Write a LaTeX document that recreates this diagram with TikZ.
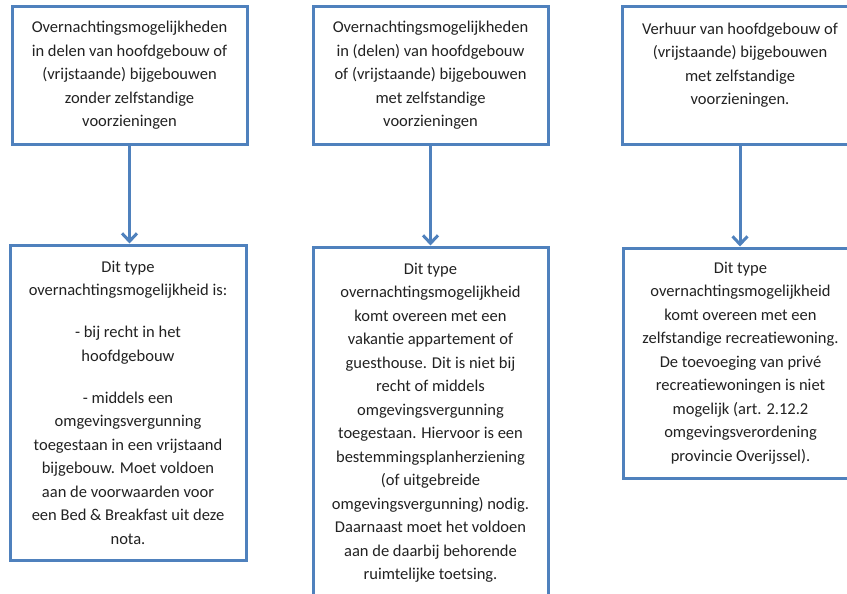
\documentclass[tikz,border=0pt]{standalone}
\usepackage{fontspec}
\setmainfont{Carlito}
\usetikzlibrary{arrows.meta}
\definecolor{boxblue}{HTML}{4F81BD}
\definecolor{txt}{HTML}{222222}
\tikzset{
  box/.style={draw=boxblue, line width=3pt, fill=white, rectangle, inner sep=0pt,
    align=center, text=txt, font=\fontsize{16.5}{23.5}\selectfont},
  arr/.style={draw=boxblue, line width=3pt, -{Straight Barb[length=8pt,width=15pt]}}
}
\begin{document}
\begin{tikzpicture}[x=1pt,y=-1pt]
\useasboundingbox (0,0) rectangle (847,594);
\clip (0,0) rectangle (847,594);
\fill[white] (0,0) rectangle (847,594);
\node[box, minimum width=235pt, minimum height=137pt] (t1) at (129.5,75.5)
 {Overnachtingsmogelijkheden\\in delen van hoofdgebouw of\\(vrijstaande) bijgebouwen\\zonder zelfstandige\\voorzieningen};
\node[box, minimum width=235pt, minimum height=137pt] (t2) at (430.5,75.5)
 {Overnachtingsmogelijkheden\\in (delen) van hoofdgebouw\\of (vrijstaande) bijgebouwen\\met zelfstandige\\voorzieningen};
\node[box, minimum width=235pt, minimum height=137pt] (t3) at (740,75.5)
 {Verhuur van hoofdgebouw of\\(vrijstaande) bijgebouwen\\met zelfstandige\\voorzieningen.\\\mbox{}};
\node[box, minimum width=236pt, minimum height=315pt] (b1) at (128,402.5)
 {Dit type\\overnachtingsmogelijkheid is:\\[18.5pt]- bij recht in het\\hoofdgebouw\\[18.5pt]- middels een\\omgevingsvergunning\\toegestaan in een vrijstaand\\bijgebouw. Moet voldoen\\aan de voorwaarden voor\\een Bed \& Breakfast uit deze\\nota.};
\node[box, minimum width=235pt, minimum height=351pt] (b2) at (430.5,422.5)
 {Dit type\\overnachtingsmogelijkheid\\komt overeen met een\\vakantie appartement of\\guesthouse. Dit is niet bij\\recht of middels\\omgevingsvergunning\\toegestaan. Hiervoor is een\\bestemmingsplanherziening\\(of uitgebreide\\omgevingsvergunning) nodig.\\Daarnaast moet het voldoen\\aan de daarbij behorende\\ruimtelijke toetsing.};
\node[box, minimum width=235pt, minimum height=230pt] (b3) at (740.5,363)
 {Dit type\\overnachtingsmogelijkheid\\komt overeen met een\\zelfstandige recreatiewoning.\\De toevoeging van privé\\recreatiewoningen is niet\\mogelijk (art. 2.12.2\\omgevingsverordening\\provincie Overijssel).};
\draw[arr] (t1.south) -- (t1.south |- b1.north);
\draw[arr] (t2.south) -- (t2.south |- b2.north);
\draw[arr] (t3.south) -- (t3.south |- b3.north);
\end{tikzpicture}
\end{document}
